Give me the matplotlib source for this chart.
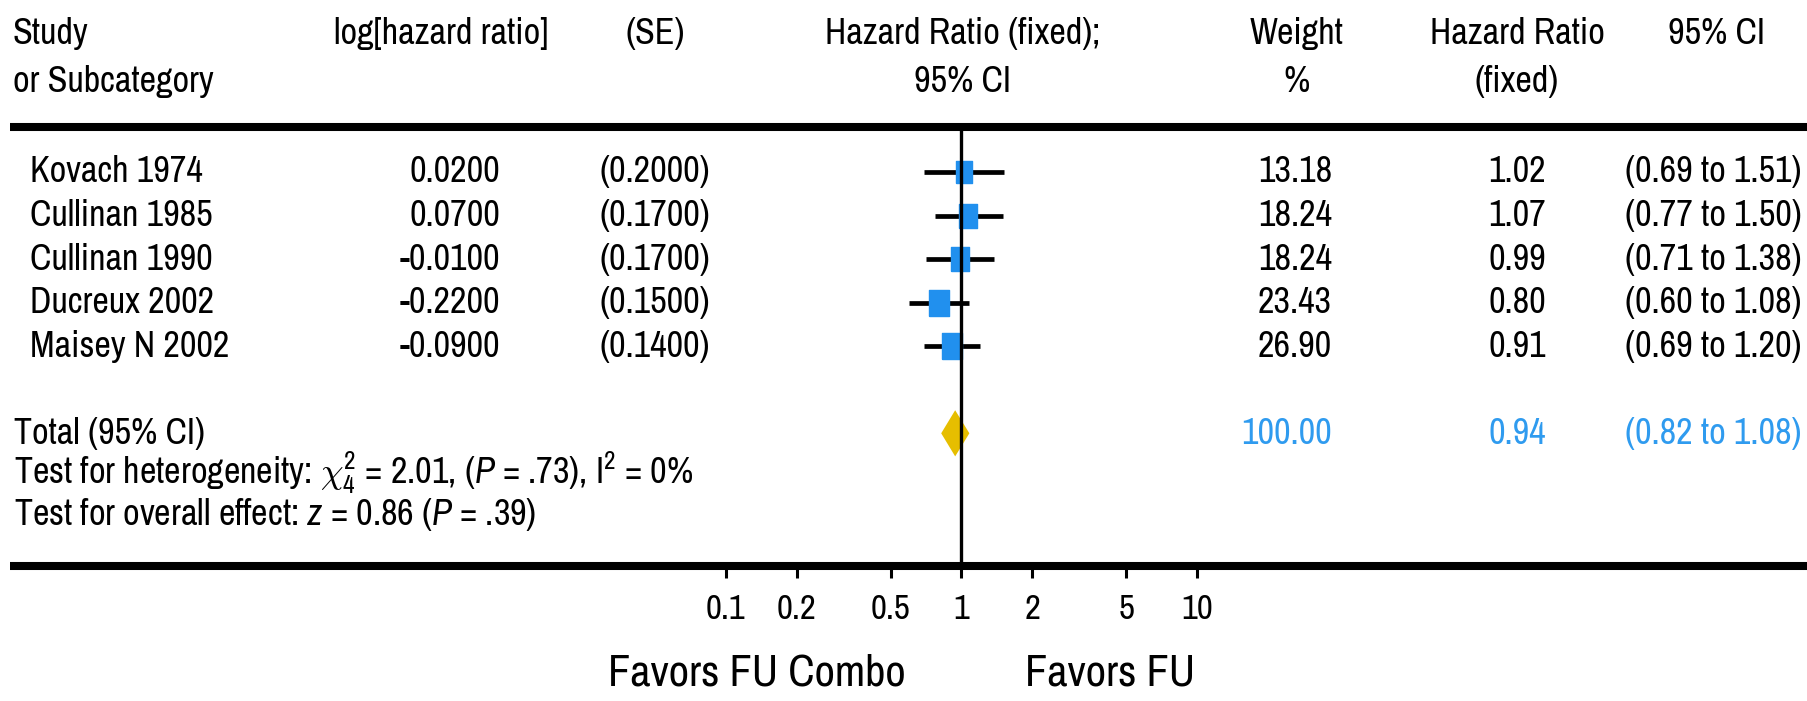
import matplotlib
matplotlib.use("Agg")
import matplotlib.pyplot as plt
from matplotlib import transforms, font_manager
from matplotlib.path import Path

# ---------------- data ----------------
studies = ["Kovach 1974", "Cullinan 1985", "Cullinan 1990", "Ducreux 2002", "Maisey N 2002"]
log_hr = [0.0200, 0.0700, -0.0100, -0.2200, -0.0900]
se = [0.2000, 0.1700, 0.1700, 0.1500, 0.1400]
weights = [13.18, 18.24, 18.24, 23.43, 26.90]
hr = [1.02, 1.07, 0.99, 0.80, 0.91]
ci_low = [0.69, 0.77, 0.71, 0.60, 0.69]
ci_high = [1.51, 1.50, 1.38, 1.08, 1.20]
total_weight = 100.00
total_hr = 0.94
total_low = 0.82
total_high = 1.08
xticks = [0.1, 0.2, 0.5, 1, 2, 5, 10]
xtick_labels = ["0.1", "0.2", "0.5", "1", "2", "5", "10"]

# ---------------- fonts ----------------
fl = font_manager.fontManager.ttflist
narrow = [f.name for f in fl if ("Narrow" in f.name or "Condensed" in f.name)
          and "Mono" not in f.name and "Serif" not in f.name]
if narrow:
    FAM, k = sorted(narrow)[0], 1.0
else:
    FAM, k = "Liberation Sans", 0.84
plt.rcParams["font.family"] = [FAM, "DejaVu Sans"]
plt.rcParams["mathtext.fontset"] = "custom"
plt.rcParams["mathtext.rm"] = FAM
plt.rcParams["mathtext.it"] = FAM + ":italic"
plt.rcParams["mathtext.bf"] = FAM + ":bold"

FS = 26 * k
TICK_FS = 25 * k
FAV_FS = 32 * k

BLUE_SQ = "#2190EE"
BLUE_TXT = "#2F9BEF"
GOLD = "#E6BE00"

W, H = 1808, 701
fig = plt.figure(figsize=(W / 100, H / 100), dpi=100)

# background axes in pixel coordinates (table layout)
ax_bg = fig.add_axes([0, 0, 1, 1])
ax_bg.set_xlim(0, W)
ax_bg.set_ylim(H, 0)
ax_bg.axis("off")

# forest axes (log scale)
top_px, bot_px = 127, 566
x0_px, x1_px = 726, 1197
ax = fig.add_axes([x0_px / W, 1 - bot_px / H, (x1_px - x0_px) / W, (bot_px - top_px) / H])
ax.set_xscale("log")
ax.set_xlim(0.1, 10)
row0_px, row_step = 172, 43.55
ax.set_ylim((bot_px - row0_px) / row_step, (top_px - row0_px) / row_step)
ax.patch.set_alpha(0)
for s in ax.spines.values():
    s.set_visible(False)
ax.set_yticks([])
ax.set_xticks(xticks)
ax.set_xticklabels(xtick_labels)
ax.minorticks_off()
ax.tick_params(axis="x", direction="out", length=8.6, width=2.2, pad=11,
               labelsize=TICK_FS, color="black")

# thick horizontal rules
ax_bg.hlines([top_px, bot_px], 10, W, color="black", lw=5.8, zorder=2)

# null line
ax.axvline(1, color="black", lw=2.4, zorder=6)

rows = list(range(len(studies)))
# CI bars
ax.hlines(rows, ci_low, ci_high, color="black", lw=3.4, zorder=3)
# weighted squares (slightly tall rectangles)
rect = Path([(-0.37, -0.5), (0.37, -0.5), (0.37, 0.5), (-0.37, 0.5), (-0.37, -0.5)])
for r, v, w in zip(rows, hr, weights):
    h_px = 1.35 * (14 + 0.22 * w)
    ax.plot([v], [r], marker=rect, markersize=h_px * 0.72, color=BLUE_SQ,
            linestyle="none", zorder=4)

# pooled diamond
tot_row = len(studies) + 1
dh = 0.53
ax.fill([total_low, total_hr, total_high, total_hr],
        [tot_row, tot_row - dh, tot_row, tot_row + dh], color=GOLD, lw=0, zorder=4)

# ---------------- table text ----------------
def T(x, y, s, **kw):
    kw.setdefault("fontsize", FS)
    kw.setdefault("va", "center")
    ax_bg.text(x, y, s, **kw)

# headers (pixel coords)
H1, H2 = 33, 81
T(13, H1, "Study", ha="left")
T(13, H2, "or Subcategory", ha="left")
T(334, H1, "log[hazard ratio]", ha="left")
T(655, H1, "(SE)", ha="center")
T(963, H1, "Hazard Ratio (fixed);", ha="center")
T(963, H2, "95% CI", ha="center")
T(1297, H1, "Weight", ha="center")
T(1297, H2, "%", ha="center")
T(1517, H1, "Hazard Ratio", ha="center")
T(1517, H2, "(fixed)", ha="center")
T(1717, H1, "95% CI", ha="center")

trans = transforms.blended_transform_factory(ax_bg.transData, ax.transData)

def R(x, r, s, **kw):
    kw.setdefault("fontsize", FS)
    kw.setdefault("va", "center")
    fig.text(x, r, s, transform=trans, **kw)

for r, name, lh, s, w, v, lo, hi in zip(rows, studies, log_hr, se, weights, hr, ci_low, ci_high):
    R(30, r, name, ha="left")
    R(500, r, f"{lh:.4f}", ha="right")
    R(655, r, f"({s:.4f})", ha="center")
    R(1332, r, f"{w:.2f}", ha="right")
    R(1546, r, f"{v:.2f}", ha="right")
    R(1625, r, f"({lo:.2f} to {hi:.2f})", ha="left")

R(14, tot_row, "Total (95% CI)", ha="left")
R(1332, tot_row, f"{total_weight:.2f}", ha="right", color=BLUE_TXT)
R(1546, tot_row, f"{total_hr:.2f}", ha="right", color=BLUE_TXT)
R(1625, tot_row, f"({total_low:.2f} to {total_high:.2f})", ha="left", color=BLUE_TXT)

R(14, tot_row + 0.92, r"Test for heterogeneity: $\chi^2_4$ = 2.01, ($P$ = .73), I$^2$ = 0%", ha="left")
R(14, tot_row + 1.86, r"Test for overall effect: $z$ = 0.86 ($P$ = .39)", ha="left")

# favors labels
T(906, 673, "Favors FU Combo", ha="right", fontsize=FAV_FS)
T(1025, 673, "Favors FU", ha="left", fontsize=FAV_FS)

fig.savefig("out.png", dpi=100)
